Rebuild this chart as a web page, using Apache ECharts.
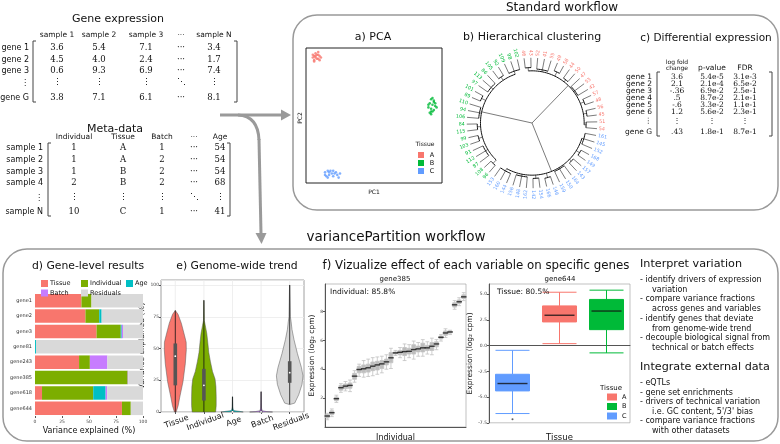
<!DOCTYPE html>
<html><head><meta charset="utf-8">
<script src="https://cdn.jsdelivr.net/npm/echarts@6/dist/echarts.min.js"></script>
<style>html,body{margin:0;padding:0;background:#fff}#c{width:780px;height:444px}</style>
</head><body><div id="c"></div>
<script>
// ---------------- DATA ----------------
const exprSamples = ['sample 1','sample 2','sample 3','\u00b7\u00b7\u00b7','sample N'];
const exprGenes = ['gene 1','gene 2','gene 3','\u22ee','gene G'];
const exprValues = [['3.6','5.4','7.1','\u00b7\u00b7\u00b7','3.4'],['4.5','4.0','2.4','\u00b7\u00b7\u00b7','1.7'],['0.6','9.3','6.9','\u00b7\u00b7\u00b7','7.4'],['\u22ee','\u22ee','\u22ee','\u22f1','\u22ee'],['3.8','7.1','6.1','\u00b7\u00b7\u00b7','8.1']];
const metaCols = ['Individual','Tissue','Batch','\u00b7\u00b7\u00b7','Age'];
const metaSamples = ['sample 1','sample 2','sample 3','sample 4','\u22ee','sample N'];
const metaValues = [['1','A','1','\u00b7\u00b7\u00b7','54'],['1','A','2','\u00b7\u00b7\u00b7','54'],['1','B','2','\u00b7\u00b7\u00b7','54'],['2','B','2','\u00b7\u00b7\u00b7','68'],['\u22ee','\u22ee','\u22ee','\u22f1','\u22ee'],['10','C','1','\u00b7\u00b7\u00b7','41']];
const deCols = ['log fold\nchange','p-value','FDR'];
const deGenes = ['gene 1','gene 2','gene 3','gene 4','gene 5','gene 6','\u22ee','gene G'];
const deValues = [['3.6','5.4e-5','3.1e-3'],['2.1','2.1e-4','6.5e-2'],['-.36','6.9e-2','2.5e-1'],['.5','8.7e-2','2.1e-1'],['-.6','3.3e-2','1.1e-1'],['1.2','5.6e-2','2.3e-1'],['\u22ee','\u22ee','\u22ee'],['.43','1.8e-1','8.7e-1']];

const tissues = ['A','B','C'];
const pcaA = [[-43,44],[-41,42],[-44,41],[-42,45],[-40,44],[-45,43],[-43,46],[-41,45],[-44,44],[-42,42],[-40,41],[-43,43],[-45,45],[-41,47],[-39,43],[-44,40]];
const pcaB = [[42,12],[44,10],[41,9],[43,8],[45,7],[40,6],[42,5],[44,4],[43,3],[41,2],[42,1],[44,11],[43,13],[40,8],[46,6],[42,3],[45,9]];
const pcaC = [[-36,-42],[-34,-41],[-33,-44],[-31,-43],[-30,-45],[-28,-42],[-27,-44],[-26,-46],[-35,-45],[-32,-41],[-29,-43],[-34,-46],[-25,-43],[-30,-41],[-33,-42],[-36,-44]];

const leafLabels = ['46','43','52','41','55','49','58','44','50','47','53','42','57','48','56','45','51','54',
  '161','145','152','168','149','157','143','164','150','159','146','166','154','142','162','148','156','144','160','153',
  '96','108','87','112','91','103','99','115','84','106','94','110','89','101','97','113','86','105','92','109','98','102'];
const leafTissue = ['A','A','A','A','A','A','A','A','A','A','A','A','A','A','A','A','A','A',
  'C','C','C','C','C','C','C','C','C','C','C','C','C','C','C','C','C','C','C','C',
  'B','B','B','B','B','B','B','B','B','B','B','B','B','B','B','B','B','B','B','B','B','B'];
const clusterHeights = [0.80, 0.80, 0.79];
const subSizesA = [2,3,2,2,3,2,2,2];
const subHeightsA = [0.85,0.83,0.87,0.84,0.82,0.86,0.85,0.83];
const subSizesC = [3,2,2,3,2,2,3,3];
const subHeightsC = [0.83,0.86,0.84,0.82,0.87,0.85,0.83,0.84];
const subSizesB = [2,3,2,2,3,2,3,2,3];
const subHeightsB = [0.86,0.83,0.85,0.84,0.82,0.86,0.83,0.85,0.84];

const barGenes = ['gene1','gene2','gene3','gene81','gene243','gene385','gene618','gene644'];
const fracTissue = [43.0,46.7,57.0,0,40.8,0,6.5,80.5];
const fracIndividual = [9.3,12.8,22.4,0,10.0,85.8,47.4,8.2];
const fracAge = [0,2.2,0.9,0.9,0,0,11.5,0];
const fracBatch = [0,0,1.2,0,16.2,0.6,1.5,0];
const fracResiduals = [47.7,38.3,18.5,99.1,33.0,13.6,33.1,11.3];

const violinCats = ['Tissue','Individual','Age','Batch','Residuals'];
const violinTissue = [[0,0.06],[5,0.2],[11,0.3],[24,0.54],[38,0.7],[49,0.77],[55,0.76],[60,0.65],[70,0.42],[77,0.19],[80,0]];
const violinIndividual = [[0,0.82],[5,0.86],[12,0.86],[20,0.84],[26,0.78],[32,0.6],[40,0.45],[47,0.34],[55,0.27],[62,0.2],[68,0.1],[72,0.03],[88,0.01]];
const violinAge = [[0,0.75],[0.5,0.5],[1,0.15],[2,0.05],[4,0.03],[12,0.01]];
const violinBatch = [[0,0.8],[0.3,0.4],[1,0.08],[3,0.03],[16,0.01]];
const violinResiduals = [[6,0.04],[7,0.35],[13.6,0.63],[21.7,0.86],[28.5,0.93],[35,0.82],[46,0.54],[57,0.3],[65,0.16],[71,0.1],[75,0.05],[100,0.01]];
const violinStats = [[0,21,44,54,80],[0,9,21,34,88],[0,0,0.2,0.8,12],[0,0,0.1,0.5,16],[6,23,31,40,100]];

const gene385Individuals = ['1','2','3','4','5','6','7','8','9','10','11','12','13','14','15','16','17','18','19','20','21','22','23','24','25','26','27','28','29','30','31'];
const gene385Stats = [
 [0.5,0.62,0.76,0.86,0.95],[0.72,0.85,0.99,1.12,1.25],[1.7,1.82,1.96,2.08,2.2],[2.4,2.55,2.72,2.88,3.0],
 [2.5,2.65,2.83,2.98,3.15],[2.45,2.68,2.88,3.05,3.25],[3.1,3.3,3.52,3.72,3.9],[3.5,3.75,3.98,4.2,4.35],
 [3.45,3.75,4.03,4.3,4.6],[3.5,3.8,4.1,4.35,4.7],[3.55,3.9,4.21,4.5,4.8],[3.65,3.95,4.3,4.55,4.85],
 [3.75,4.05,4.37,4.6,4.9],[4.0,4.3,4.51,4.7,5.0],[4.05,4.45,4.79,5.15,5.45],[4.95,5.05,5.13,5.2,5.3],
 [4.8,5.0,5.17,5.3,5.5],[4.6,4.95,5.22,5.5,5.75],[4.8,5.05,5.24,5.45,5.7],[4.7,5.05,5.36,5.7,5.95],
 [4.9,5.2,5.41,5.6,5.85],[4.9,5.2,5.48,5.8,6.05],[5.05,5.3,5.48,5.65,5.9],[5.0,5.3,5.59,5.85,6.15],
 [5.35,5.55,5.75,5.9,6.05],[5.95,6.1,6.21,6.3,6.4],[6.2,6.35,6.51,6.65,6.8],[6.4,6.5,6.58,6.65,6.7],
 [8.15,8.3,8.46,8.6,8.75],[8.4,8.55,8.67,8.8,8.95],[8.75,8.9,9.01,9.15,9.3]];

const gene644Cats = ['C','A','B'];
const gene644Stats = [[-6.6,-4.4,-3.68,-2.78,-0.45],[0.2,2.31,2.96,3.87,5.2],[-0.7,1.56,3.37,4.5,5.4]];
const gene644Outliers = [['C',-7.15]];

const interpretLines = ['- identify drivers of expression','  variation','- compare variance fractions','  across genes and variables','- identify genes that deviate','  from genome-wide trend','- decouple biological signal from','  technical or batch effects'];
const integrateLines = ['- eQTLs','- gene set enrichments','- drivers of technical variation','  i.e. GC content, 5\'/3\' bias','- compare variance fractions','  with other datasets'];

// ---------------- STYLE ----------------
const SANS = 'DejaVu Sans', SERIF = 'DejaVu Serif';
const COL = {A:'#F8766D', B:'#00BA38', C:'#619CFF'};
const VCOL = ['#F8766D','#7CAE00','#00BFC4','#C77CFF','#D9D9D9'];
const G = [];
function txt(x,y,s,size,opt){ G.push({type:'text', x:x, y:y, silent:true, z:10, style:Object.assign({text:s, fill:'#111', font: size+'px '+SANS, align:'center', verticalAlign:'middle'}, opt||{})}); }
function pl(points,stroke,w){ G.push({type:'polyline', silent:true, shape:{points:points}, style:{stroke:stroke||'#333', lineWidth:w||1, fill:null}}); }
function bracket(xl,xr,y0,y1){ pl([[xl+3,y0],[xl,y0],[xl,y1],[xl+3,y1]],'#444',1); pl([[xr-3,y0],[xr,y0],[xr,y1],[xr-3,y1]],'#444',1); }
function bullets(lines,x,y0,step){ lines.forEach((s,i)=>{ const ind = s.startsWith('  '); txt(ind?x+12:x, y0+step*i, s.trim(), 8, {align:'left'}); }); }

// boxes
G.push({type:'rect', silent:true, shape:{x:293,y:15,width:485,height:195,r:24}, style:{stroke:'#999',lineWidth:1.5,fill:null}});
G.push({type:'rect', silent:true, shape:{x:3,y:249,width:775,height:192,r:24}, style:{stroke:'#999',lineWidth:1.5,fill:null}});
txt(562,8,'Standard workflow',12);
txt(396,237,'variancePartition workflow',13.5);
// arrows
G.push({type:'line', silent:true, shape:{x1:220,y1:115,x2:282,y2:115}, style:{stroke:'#9a9a9a',lineWidth:3}});
G.push({type:'polygon', silent:true, shape:{points:[[281,109.5],[291,115],[281,120.5]]}, style:{fill:'#9a9a9a'}});
G.push({type:'bezierCurve', silent:true, shape:{x1:238,y1:115,cpx1:258,cpy1:116,x2:259,y2:140}, style:{stroke:'#9a9a9a',lineWidth:3,fill:null}});
G.push({type:'line', silent:true, shape:{x1:259,y1:139,x2:261,y2:234}, style:{stroke:'#9a9a9a',lineWidth:3}});
G.push({type:'polygon', silent:true, shape:{points:[[255.5,233],[261.5,244],[266.5,233]]}, style:{fill:'#9a9a9a'}});

// gene expression matrix
txt(118,19,'Gene expression',11);
const exX = [57,99,146,181,214], exY = [48,60,71,83,98];
exprSamples.forEach((s,i)=>txt(exX[i],35,s,7.5));
exprGenes.forEach((g,j)=>txt(29,exY[j],g,8,{align:'right'}));
exprValues.forEach((row,j)=>row.forEach((v,i)=>txt(exX[i],exY[j],v,8.5,{font:'8.5px '+SERIF})));
bracket(33,237,41,102);
// meta-data
txt(115,129,'Meta-data',11);
const mX = [74,123,162,194,220], mY = [148,160,172,183,198,212];
metaCols.forEach((s,i)=>txt(mX[i],137,s,7.5));
metaSamples.forEach((g,j)=>txt(43,mY[j],g,8,{align:'right'}));
metaValues.forEach((row,j)=>row.forEach((v,i)=>txt(mX[i],mY[j],v,8.5,{font:'8.5px '+SERIF})));
bracket(48,230,143,216);

// PCA extras
txt(373,37,'a) PCA',11);
txt(374,192,'PC1',6);
G.push({type:'text', x:300, y:118, rotation:Math.PI/2, silent:true, style:{text:'PC2', font:'6px '+SANS, fill:'#111', align:'center', verticalAlign:'middle'}});
txt(425,144,'Tissue',6);
tissues.forEach((t,i)=>{ G.push({type:'rect', silent:true, shape:{x:418,y:152+8*i,width:6,height:6}, style:{fill:COL[t]}}); txt(432,155+8*i,t,6.5); });
// dendrogram title
txt(532,37,'b) Hierarchical clustering',11);
// DE matrix
txt(706,38,'c) Differential expression',10.5);
const dX = [677,712,745], dY = [77.3,84.3,91.3,98.3,105.3,112.3,121.5,131.7];
deCols.forEach((s,i)=>txt(dX[i], i===0?65.5:68, s, i===0?6:7.5, i===0?{lineHeight:6}:{}));
deGenes.forEach((g,j)=>txt(652,dY[j],g,7.5,{align:'right'}));
deValues.forEach((row,j)=>row.forEach((v,i)=>txt(dX[i],dY[j],v,7.5,{font:'7.5px '+SERIF})));
bracket(657,772,72,136);

// bottom titles
txt(88,266,'d) Gene-level results',10.8);
txt(237,266,'e) Genome-wide trend',10.8);
txt(476,266,'f) Vizualize effect of each variable on specific genes',11.8);
txt(395,279,'gene385',7);
txt(560,279,'gene644',7);
txt(330,292,'Individual: 85.8%',7.5,{align:'left'});
txt(497,292,'Tissue: 80.5%',7.5,{align:'left'});
// gene644 legend
txt(611,388,'Tissue',7);
tissues.forEach((t,i)=>{ G.push({type:'rect', silent:true, shape:{x:607,y:393.5+9.5*i,width:10,height:7}, style:{fill:COL[t]}}); txt(622,397+9.5*i,t,6.5,{align:'left'}); });
// right text
txt(640,264,'Interpret variation',11.2,{align:'left'});
bullets(interpretLines,640,280,9.7);
txt(640,367,'Integrate external data',11.2,{align:'left'});
bullets(integrateLines,640,383,9.6);

// ---------------- DENDROGRAM LAYOUT ----------------
function buildDendro(){
  const segs = [];
  let leaf = 0;
  const groups = [[subSizesA,subHeightsA],[subSizesC,subHeightsC],[subSizesB,subHeightsB]];
  groups.forEach((g,ci)=>{
    const hc = clusterHeights[ci];
    const subAngles = [];
    g[0].forEach((n,si)=>{
      const hg = g[1][si];
      const a0 = leaf+0.5, a1 = leaf+n-0.5;
      for(let k=0;k<n;k++){ segs.push([0, leaf+k+0.5, hg, 1.0]); segs.push([2, leaf+k+0.5, 1.03, leaf+k]); }
      if(n>1) segs.push([1, hg, a0, a1]);
      const am = (a0+a1)/2; subAngles.push(am);
      segs.push([0, am, hc, hg]);
      leaf += n;
    });
    segs.push([1, hc, subAngles[0], subAngles[subAngles.length-1]]);
    const amid = (subAngles[0]+subAngles[subAngles.length-1])/2;
    segs.push([0, amid, 0, hc]);
  });
  return segs;
}

// ---------------- OPTION ----------------
const axisTiny = {fontSize:4.5, color:'#444', fontFamily:SANS};
function legendItem(name,left,top){ return {data:[name], left:left, top:top, itemWidth:7, itemHeight:7, itemGap:0, icon:'rect', textStyle:{fontSize:6.5, color:'#111', padding:[0,0,0,-3]}, selectedMode:false}; }
const option = {
  animation:false,
  textStyle:{fontFamily:SANS},
  graphic:{elements:G},
  polar:{center:[532,123], radius:75},
  angleAxis:{type:'value', min:0, max:60, startAngle:100, clockwise:true, show:false},
  radiusAxis:{type:'value', min:0, max:1.15, show:false},
  legend:[legendItem('Tissue',36,275), legendItem('Individual',76,275), legendItem('Age',121,275), legendItem('Batch',36,284.5), legendItem('Residuals',76,284.5)],
  grid:[
    {left:306, top:48, width:136, height:135, show:true, borderColor:'#222', borderWidth:1},
    {left:35, top:293, width:108, height:123},
    {left:161, top:280, width:143, height:132, show:true, borderColor:'#888', borderWidth:0.8},
    {left:325, top:284, width:141, height:143, show:true, borderColor:'#999', borderWidth:0.6},
    {left:489, top:284, width:141, height:138.8, show:true, borderColor:'#999', borderWidth:0.6}
  ],
  xAxis:[
    {gridIndex:0, type:'value', min:-50, max:50, show:false},
    {gridIndex:1, type:'value', min:0, max:100, interval:25, axisLabel:Object.assign({margin:3},axisTiny), axisLine:{show:false}, axisTick:{show:true,length:2,lineStyle:{color:'#555'}}, splitLine:{show:false},
      name:'Variance explained (%)', nameLocation:'middle', nameGap:11, nameTextStyle:{fontSize:8, color:'#111'}},
    {gridIndex:2, type:'category', data:violinCats, axisLabel:{rotate:20, interval:0, align:'center', verticalAlign:'top', fontSize:8, color:'#111', margin:6}, axisTick:{show:true,length:2,alignWithLabel:true}, axisLine:{show:false}, splitLine:{show:false}},
    {gridIndex:3, type:'category', data:gene385Individuals, axisLabel:{show:false}, axisTick:{show:false}, axisLine:{lineStyle:{color:'#555'}},
      name:'Individual', nameLocation:'middle', nameGap:7, nameTextStyle:{fontSize:8, color:'#111'}},
    {gridIndex:4, type:'category', data:gene644Cats, axisLabel:{show:false}, axisTick:{show:false}, axisLine:{lineStyle:{color:'#555'}},
      name:'Tissue', nameLocation:'middle', nameGap:10, nameTextStyle:{fontSize:8.5, color:'#111'}}
  ],
  yAxis:[
    {gridIndex:0, type:'value', min:-50, max:50, show:false},
    {gridIndex:1, type:'category', data:barGenes, inverse:true, axisLabel:{fontSize:5, color:'#333', margin:3}, axisTick:{show:false}, axisLine:{show:false}},
    {gridIndex:2, type:'value', min:0, max:104, interval:25, axisLabel:Object.assign({margin:2, showMaxLabel:false},axisTiny), axisTick:{show:true,length:2}, axisLine:{show:false},
      splitLine:{lineStyle:{color:'#ebebeb',width:0.8}}, name:'Variance explained (%)', nameLocation:'middle', nameGap:8, nameTextStyle:{fontSize:7.5,color:'#111'}},
    {gridIndex:3, type:'value', min:0, max:9.9, interval:2, axisLabel:Object.assign({margin:2, showMinLabel:false, showMaxLabel:false},axisTiny), axisTick:{show:true,length:2}, axisLine:{show:true,lineStyle:{color:'#555'}},
      splitLine:{show:false}, name:'Expression (log\u2082 cpm)', nameLocation:'middle', nameGap:8, nameTextStyle:{fontSize:7.5,color:'#111'}},
    {gridIndex:4, type:'value', min:-7.5, max:6, interval:2.5, axisLabel:Object.assign({margin:2, showMaxLabel:false, formatter:v=>v.toFixed(1)},axisTiny), axisTick:{show:true,length:2}, axisLine:{show:true,lineStyle:{color:'#555'}},
      splitLine:{show:false}, name:'Expression (log\u2082 cpm)', nameLocation:'middle', nameGap:12, nameTextStyle:{fontSize:7.5,color:'#111'}}
  ],
  series:[]
};
// PCA
[pcaA,pcaB,pcaC].forEach((d,i)=>option.series.push({type:'scatter', xAxisIndex:0, yAxisIndex:0, data:d, symbolSize:2.6, itemStyle:{color:COL[tissues[i]]}, silent:true}));
// dendrogram
option.series.push({type:'custom', coordinateSystem:'polar', polarIndex:0, silent:true, data:buildDendro(),
  renderItem:function(params, api){
    const k = api.value(0);
    if(k===0){ const a=api.value(1), p0=api.coord([api.value(2),a]), p1=api.coord([api.value(3),a]);
      return {type:'line', shape:{x1:p0[0],y1:p0[1],x2:p1[0],y2:p1[1]}, style:{stroke:'#222',lineWidth:0.6}}; }
    if(k===1){ const r=api.value(1), a0=api.value(2), a1=api.value(3); const pts=[]; const n=Math.max(2,Math.ceil(Math.abs(a1-a0)*3));
      for(let j=0;j<=n;j++) pts.push(api.coord([r, a0+(a1-a0)*j/n]));
      return {type:'polyline', shape:{points:pts}, style:{stroke:'#111',lineWidth:1,fill:null}}; }
    const a=api.value(1), idx=api.value(3); const p=api.coord([api.value(2),a]), c=api.coord([0,a]);
    const dx=p[0]-c[0], dy=p[1]-c[1]; const th=Math.atan2(-dy,dx); const right = dx>=0;
    return {type:'text', x:p[0], y:p[1], rotation: right?th:th+Math.PI, style:{text:leafLabels[idx], fill:COL[leafTissue[idx]], font:'4.8px '+SANS, align: right?'left':'right', verticalAlign:'middle'}};
  }});
// stacked bars
[['Tissue',fracTissue],['Individual',fracIndividual],['Age',fracAge],['Batch',fracBatch],['Residuals',fracResiduals]].forEach((s,i)=>
  option.series.push({type:'bar', name:s[0], stack:'v', xAxisIndex:1, yAxisIndex:1, data:s[1], barCategoryGap:'12%', itemStyle:{color:VCOL[i]}, silent:true}));
// violins
const violinProfiles = [violinTissue, violinIndividual, violinAge, violinBatch, violinResiduals];
option.series.push({type:'custom', xAxisIndex:2, yAxisIndex:2, silent:true, data:violinCats.map((c,i)=>[i,0]),
  renderItem:function(params, api){
    const i = api.value(0); const prof = violinProfiles[i]; const hw = api.size([1,0])[0]/2;
    const cx = api.coord([i,0])[0];
    const top = api.coord([i,104])[1], bot = api.coord([i,0])[1];
    const left = prof.map(p=>{ const q=api.coord([i,p[0]]); return [cx - p[1]*hw, q[1]]; });
    const right = prof.slice().reverse().map(p=>{ const q=api.coord([i,p[0]]); return [cx + p[1]*hw, q[1]]; });
    const st = violinStats[i];
    const yq1 = api.coord([i,st[1]])[1], yq3 = api.coord([i,st[3]])[1], ym = api.coord([i,st[2]])[1];
    const y0 = api.coord([i,st[0]])[1], y1 = api.coord([i,st[4]])[1];
    return {type:'group', children:[
      {type:'line', shape:{x1:cx,y1:top,x2:cx,y2:bot}, style:{stroke:'#ebebeb',lineWidth:0.8}},
      {type:'polygon', shape:{points:left.concat(right)}, style:{fill:VCOL[i], stroke:'#555', lineWidth:0.5}},
      {type:'line', shape:{x1:cx,y1:y0,x2:cx,y2:y1}, style:{stroke:'#111',lineWidth:0.8}},
      {type:'rect', shape:{x:cx-1.8,y:yq3,width:3.6,height:Math.max(1,yq1-yq3)}, style:{fill:'#555'}},
      {type:'circle', shape:{cx:cx,cy:ym,r:0.9}, style:{fill:'#fff'}}
    ]};
  }});
// gene385 boxplots
option.series.push({type:'boxplot', xAxisIndex:3, yAxisIndex:3, data:gene385Stats, boxWidth:[3.8,3.8], silent:true,
  itemStyle:{color:'#bdbdbd', borderColor:'#c2c2c2', borderWidth:0.8}});
option.series.push({type:'scatter', xAxisIndex:3, yAxisIndex:3, data:gene385Stats.map((s,i)=>[i,s[2]]), symbol:'rect', symbolSize:[5.5,1.4], itemStyle:{color:'#111'}, silent:true, z:5});
// gene644 boxplots
option.series.push({type:'boxplot', xAxisIndex:4, yAxisIndex:4, boxWidth:[34,34], silent:true,
  data:gene644Stats.map((s,i)=>({value:s, itemStyle:{color:COL[gene644Cats[i]], borderColor:COL[gene644Cats[i]], borderWidth:1}}))});
option.series.push({type:'scatter', xAxisIndex:4, yAxisIndex:4, data:gene644Stats.map((s,i)=>[i,s[2]]), symbol:'rect', symbolSize:[30,1.4], itemStyle:{color:'#111'}, silent:true, z:5});
option.series.push({type:'scatter', xAxisIndex:4, yAxisIndex:4, data:gene644Outliers, symbolSize:2, itemStyle:{color:'#333'}, silent:true});

const chart = echarts.init(document.getElementById('c'));
chart.setOption(option);
</script>
</body></html>
